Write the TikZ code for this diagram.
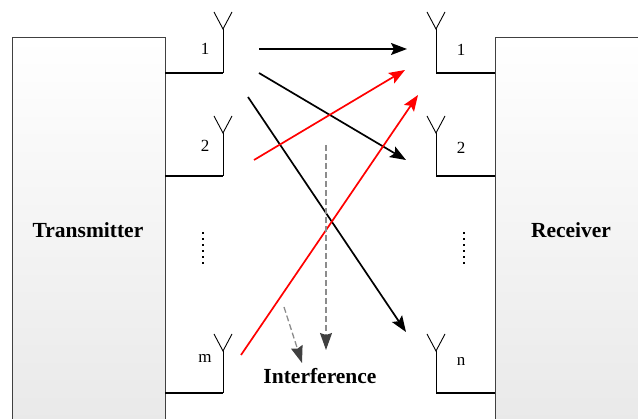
\documentclass[tikz,border=0pt]{standalone}
\usepackage{fontspec}
\setmainfont{Liberation Serif}
\usetikzlibrary{arrows.meta}
\begin{document}
\begin{tikzpicture}[x=1pt,y=-1pt,
  box/.style={draw=black!75,line width=0.8pt,top color=white,bottom color=black!9,anchor=north west,minimum width=153pt,minimum height=403pt,inner sep=0pt},
  title/.style={font=\fontsize{21.5}{24}\selectfont\bfseries},
  num/.style={font=\fontsize{17}{19}\selectfont},
  ant/.style={line width=0.9pt},
  feed/.style={line width=1.7pt},
  sig/.style={line width=1.7pt,-{Stealth[length=16pt,width=12pt,inset=3pt]}},
  redsig/.style={sig,red},
  intf/.style={draw=black!45,line width=1.3pt,dash pattern=on 6pt off 3pt,-{Stealth[length=17pt,width=12pt,inset=2pt,color=black!75]}},
  dot/.style={fill=black,inner sep=0pt,minimum size=2.5pt,rectangle}
]
\useasboundingbox (0,0) rectangle (638,419);
\begin{scope}
\clip (0,0) rectangle (638,419);
\node[box] (tx) at (12,37) {};
\node[box] (rx) at (495,37) {};
\end{scope}
\node[title] (txl) at (88,230) {Transmitter};
\node[title] (rxl) at (571,230) {Receiver};

% transmitter antennas
\foreach \n/\a/\h in {t1/29/73, t2/133/176, tm/351/393}{
  \coordinate (\n) at (223,\a);
  \draw[feed] (165,\h) -- (223,\h);
  \draw[ant] (223,\h) -- (\n);
  \draw[ant] (214,\a-17) -- (\n) -- (232,\a-17);
}
% receiver antennas
\foreach \n/\a/\h in {r1/29/73, r2/133/176, rn/351/393}{
  \coordinate (\n) at (436,\a);
  \draw[feed] (436,\h) -- (495,\h);
  \draw[ant] (436,\h) -- (\n);
  \draw[ant] (427,\a-17) -- (\n) -- (445,\a-17);
}
\node[num] (l1) at (205,49) {1};
\node[num] (l2) at (205,146) {2};
\node[num] (lm) at (205,358) {m};
\node[num] (k1) at (461,50) {1};
\node[num] (k2) at (461,148) {2};
\node[num] (kn) at (461,361) {n};

\foreach \y in {233,239,...,263}{
  \node[dot] at (203,\y) {};
  \node[dot] at (464,\y) {};
}

% signal paths
\coordinate (s1) at (259,49);  \coordinate (e1) at (407,49);
\coordinate (s2) at (259,73);  \coordinate (e2) at (406,160);
\coordinate (s3) at (248,97);  \coordinate (e3) at (406,332);
\coordinate (s4) at (254,160); \coordinate (e4) at (405,70);
\coordinate (s5) at (241,355); \coordinate (e5) at (418,95);
\draw[sig] (s1) -- (e1);
\draw[sig] (s2) -- (e2);
\draw[sig] (s3) -- (e3);
\draw[redsig] (s4) -- (e4);
\draw[redsig] (s5) -- (e5);

% interference
\coordinate (i1) at (326,145); \coordinate (j1) at (326,350);
\coordinate (i2) at (284,307); \coordinate (j2) at (302,363);
\draw[intf] (i1) -- (j1);
\draw[intf] (i2) -- (j2);
\node[title] (intl) at (320,376) {Interference};
\end{tikzpicture}
\end{document}
